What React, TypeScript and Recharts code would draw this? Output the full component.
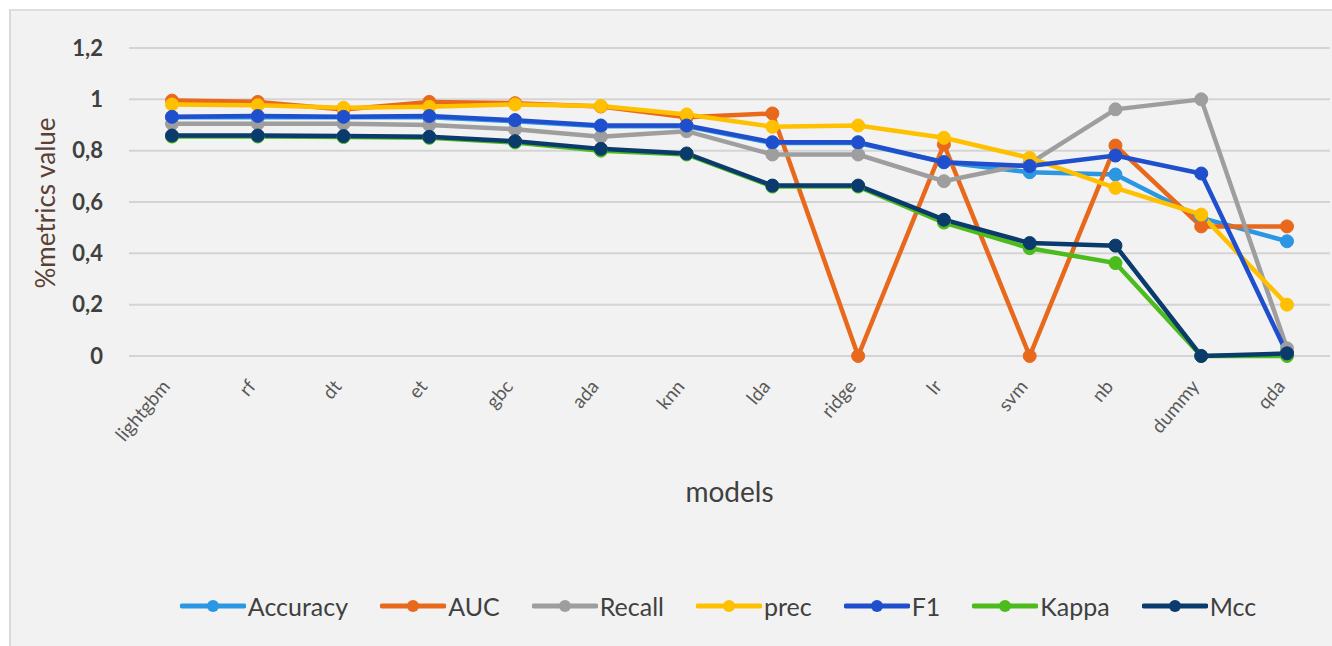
import React from 'react';
import { LineChart, Line, XAxis, YAxis, CartesianGrid, Legend } from 'recharts';

const models = ['lightgbm', 'rf', 'dt', 'et', 'gbc', 'ada', 'knn', 'lda', 'ridge', 'lr', 'svm', 'nb', 'dummy', 'qda'];
const accuracy = [0.93, 0.93, 0.93, 0.93, 0.915, 0.895, 0.895, 0.83, 0.83, 0.755, 0.716, 0.707, 0.538, 0.447];
const auc = [0.995, 0.99, 0.96, 0.99, 0.985, 0.972, 0.93, 0.945, 0, 0.824, 0, 0.82, 0.505, 0.505];
const recall = [0.905, 0.905, 0.905, 0.9, 0.883, 0.854, 0.876, 0.785, 0.785, 0.681, 0.75, 0.961, 1.0, 0.03];
const prec = [0.98, 0.977, 0.967, 0.971, 0.98, 0.974, 0.941, 0.893, 0.898, 0.85, 0.772, 0.655, 0.551, 0.2];
const f1 = [0.932, 0.935, 0.932, 0.935, 0.919, 0.898, 0.898, 0.833, 0.833, 0.755, 0.74, 0.781, 0.711, 0.01];
const kappa = [0.855, 0.855, 0.853, 0.85, 0.832, 0.8, 0.785, 0.66, 0.66, 0.52, 0.42, 0.362, 0, 0];
const mcc = [0.859, 0.859, 0.857, 0.854, 0.837, 0.807, 0.789, 0.664, 0.664, 0.531, 0.44, 0.43, 0, 0.01];
const yTicks = [0, 0.2, 0.4, 0.6, 0.8, 1, 1.2];

const series = [
  { key: 'Accuracy', values: accuracy, color: '#2b97e3' },
  { key: 'AUC', values: auc, color: '#e8691c' },
  { key: 'Recall', values: recall, color: '#9e9e9e' },
  { key: 'prec', values: prec, color: '#ffc000' },
  { key: 'F1', values: f1, color: '#1f4fcc' },
  { key: 'Kappa', values: kappa, color: '#4cbb1c' },
  { key: 'Mcc', values: mcc, color: '#0b3a6c' },
];

const data = models.map((m, i) => {
  const row: any = { model: m };
  series.forEach((s) => { row[s.key] = s.values[i]; });
  return row;
});

const FONT = 'Lato, "Open Sans", sans-serif';

const XTick = (props: any) => {
  const { x, y, payload } = props;
  const ax = x - 1;
  const ay = y + 23;
  return (
    <text x={ax} y={ay} transform={`rotate(-50 ${ax} ${ay})`} textAnchor="end"
      fill="#595959" fontSize={19} fontFamily={FONT}>{payload.value}</text>
  );
};

const LegendContent = () => (
  <div style={{ display: 'flex', justifyContent: 'center', alignItems: 'center', gap: 32, fontFamily: FONT, paddingLeft: 104 }}>
    {series.map((s) => (
      <div key={s.key} style={{ display: 'flex', alignItems: 'center' }}>
        <svg width={66} height={20}>
          <line x1={2} y1={10} x2={64} y2={10} stroke={s.color} strokeWidth={5} strokeLinecap="round" />
          <circle cx={33} cy={10} r={6} fill={s.color} />
        </svg>
        <span style={{ fontSize: 25, color: '#404040', marginLeft: 2 }}>{s.key}</span>
      </div>
    ))}
  </div>
);

export default function App() {
  return (
    <div style={{ position: 'absolute', left: 0, top: 0, width: 1332, height: 646, background: '#ffffff', overflow: 'hidden' }}>
      <div style={{ position: 'absolute', left: 9, top: 9, width: 1340, height: 650, background: '#f2f2f2', borderLeft: '2px solid #d9d9d9', borderTop: '2px solid #dedede' }} />
      <div style={{ position: 'absolute', left: 0, top: 0 }}>
        <LineChart width={1332} height={646} data={data} margin={{ top: 48, right: 2, bottom: 150, left: 29 }}>
          <CartesianGrid vertical={false} stroke="#d4d4d4" strokeWidth={2} />
          <XAxis dataKey="model" interval={0} axisLine={false} tickLine={false} height={140} tick={<XTick />}
            padding={{ left: 43, right: 43 }}
            label={({ viewBox }: any) => (
              <text x={viewBox.x + viewBox.width / 2} y={viewBox.y + 146} textAnchor="middle" fill="#404040" fontSize={28} fontFamily={FONT}>models</text>
            )} />
          <YAxis domain={[0, 1.2]} ticks={yTicks} width={100} axisLine={false} tickLine={false} tickMargin={20}
            tickFormatter={(v: number) => String(Math.round(v * 10) / 10).replace('.', ',')}
            tick={{ fill: '#404040', fontSize: 22, fontWeight: 700, fontFamily: FONT }}
            label={({ viewBox }: any) => {
              const cx = viewBox.x + 16;
              const cy = 203;
              return (
                <text x={cx} y={cy} transform={`rotate(-90 ${cx} ${cy})`} textAnchor="middle" dominantBaseline="central"
                  fill="#5a3f34" fontSize={26} fontFamily={FONT}>%metrics value</text>
              );
            }} />
          {series.map((s) => (
            <Line key={s.key} type="linear" dataKey={s.key} stroke={s.color} strokeWidth={4.5}
              dot={{ r: 6.5, fill: s.color, stroke: s.color, strokeWidth: 1 }} activeDot={false} isAnimationActive={false} />
          ))}
          <Legend verticalAlign="middle" align="center" content={<LegendContent />}
            wrapperStyle={{ top: 591, left: 0, width: 1332 }} />
        </LineChart>
      </div>
    </div>
  );
}
